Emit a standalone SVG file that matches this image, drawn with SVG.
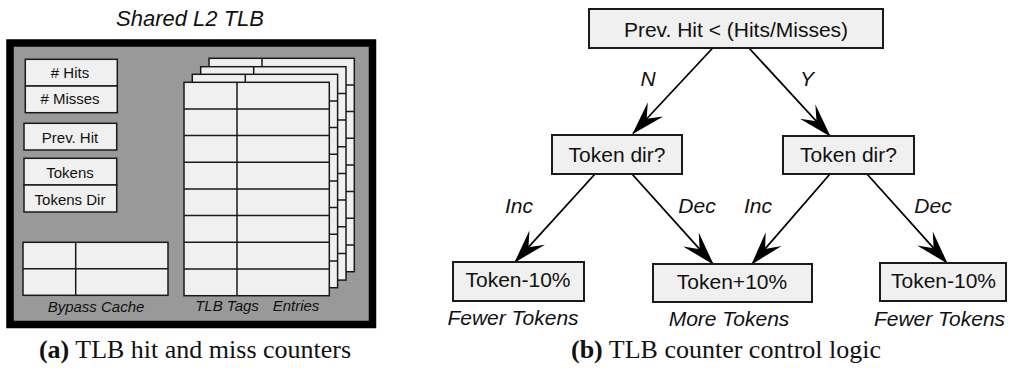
<svg xmlns="http://www.w3.org/2000/svg" width="1009" height="368" viewBox="0 0 1009 368">
<defs>
<style>
.t{font-family:"Liberation Sans",Arial,sans-serif;fill:#111}
.s15{font-size:15px}
.s21{font-size:21px}
.it{font-style:italic}
.cap{font-family:"Liberation Serif","Times New Roman",serif;font-size:26px;fill:#111}
.box{fill:#f0f0f0;stroke:#1a1a1a;stroke-width:1.5}
.nb{fill:#f0f0f0;stroke:#1a1a1a;stroke-width:2}
.ln{stroke:#1a1a1a;stroke-width:1.5;fill:none}
.ar{stroke:#000;stroke-width:1.8;fill:none;marker-end:url(#ah)}
</style>
<marker id="ah" markerUnits="userSpaceOnUse" viewBox="-34 -11 36 22" refX="0" refY="0" markerWidth="36" markerHeight="22" orient="auto">
<path d="M1,0 L-33,-10.5 L-20,0 L-33,10.5 Z" fill="#000"/>
</marker>
<g id="tbl">
<rect class="box" x="0" y="0" width="145.3" height="213.4"/>
<path class="ln" d="M53,0V213.4M0,26.7H145.3M0,53.3H145.3M0,80H145.3M0,106.7H145.3M0,133.3H145.3M0,160H145.3M0,186.7H145.3"/>
</g>
</defs>

<g id="panel-a">
<text class="t it" x="190" y="25.5" text-anchor="middle" style="font-size:22px">Shared L2 TLB</text>
<rect x="10" y="43" width="362.5" height="281.5" fill="#999" stroke="#000" stroke-width="7.5"/>
</g>

<g id="counters">
<rect class="box" x="25.3" y="59.3" width="92" height="26.7"/>
<rect class="box" x="25.3" y="86" width="92" height="26.7"/>
<text class="t s15" x="70" y="77.5" text-anchor="middle"># Hits</text>
<text class="t s15" x="70" y="104" text-anchor="middle"># Misses</text>
</g>
<g id="prevhit">
<rect class="box" x="24" y="123.3" width="92.7" height="26.7"/>
<text class="t s15" x="70" y="143" text-anchor="middle">Prev. Hit</text>
</g>
<g id="tokens">
<rect class="box" x="24" y="158.3" width="92.7" height="26.7"/>
<rect class="box" x="24" y="185" width="92.7" height="27"/>
<text class="t s15" x="70" y="178" text-anchor="middle">Tokens</text>
<text class="t s15" x="70" y="205" text-anchor="middle">Tokens Dir</text>
</g>
<g id="bypass">
<rect class="box" x="23" y="242.3" width="145" height="53"/>
<path class="ln" d="M75.7,242.3V295.3M23,268.7H168"/>
<text class="t s15 it" x="96" y="311.7" text-anchor="middle">Bypass Cache</text>
</g>
<g id="tlb">
<use href="#tbl" x="209" y="58.3"/>
<use href="#tbl" x="200.7" y="66.7"/>
<use href="#tbl" x="192.3" y="74.3"/>
<use href="#tbl" x="184" y="82.3"/>
<text class="t s15 it" x="227" y="310.5" text-anchor="middle">TLB Tags</text>
<text class="t s15 it" x="296" y="310.5" text-anchor="middle">Entries</text>
</g>
<text class="cap" x="195" y="358" text-anchor="middle"><tspan font-weight="bold">(a)</tspan> TLB hit and miss counters</text>

<g id="connectors">
<line class="ar" x1="712.7" y1="48" x2="633" y2="133.5"/>
<line class="ar" x1="749" y1="48" x2="830" y2="136"/>
<line class="ar" x1="595" y1="174" x2="515" y2="262"/>
<line class="ar" x1="632" y1="174" x2="713" y2="264"/>
<line class="ar" x1="830" y1="174" x2="752" y2="264"/>
<line class="ar" x1="867" y1="174" x2="947" y2="263"/>
<text class="t s21 it" x="648" y="86" text-anchor="middle">N</text>
<text class="t s21 it" x="807" y="86" text-anchor="middle">Y</text>
<text class="t s21 it" x="519" y="213" text-anchor="middle">Inc</text>
<text class="t s21 it" x="697" y="213" text-anchor="middle">Dec</text>
<text class="t s21 it" x="758" y="213" text-anchor="middle">Inc</text>
<text class="t s21 it" x="933" y="213" text-anchor="middle">Dec</text>
</g>

<g id="root">
<rect class="nb" x="589" y="9" width="294" height="39"/>
<text class="t s21" x="736" y="37" text-anchor="middle">Prev. Hit &lt; (Hits/Misses)</text>
</g>
<g id="dir-n">
<rect class="nb" x="552" y="135" width="130" height="39"/>
<text class="t s21" x="617" y="162" text-anchor="middle">Token dir?</text>
</g>
<g id="dir-y">
<rect class="nb" x="783" y="136" width="131" height="38"/>
<text class="t s21" x="848.5" y="162" text-anchor="middle">Token dir?</text>
</g>
<g id="dec-1">
<rect class="nb" x="453" y="262" width="131" height="39"/>
<text class="t s21" x="518" y="287" text-anchor="middle">Token-10%</text>
<text class="t s21 it" x="513" y="325" text-anchor="middle">Fewer Tokens</text>
</g>
<g id="inc">
<rect class="nb" x="653" y="264" width="159" height="38"/>
<text class="t s21" x="732" y="289" text-anchor="middle">Token+10%</text>
<text class="t s21 it" x="729" y="326" text-anchor="middle">More Tokens</text>
</g>
<g id="dec-2">
<rect class="nb" x="880" y="263" width="126" height="38"/>
<text class="t s21" x="943.5" y="287.5" text-anchor="middle">Token-10%</text>
<text class="t s21 it" x="939.5" y="326" text-anchor="middle">Fewer Tokens</text>
</g>
<text class="cap" x="726" y="358" text-anchor="middle"><tspan font-weight="bold">(b)</tspan> TLB counter control logic</text>
</svg>
